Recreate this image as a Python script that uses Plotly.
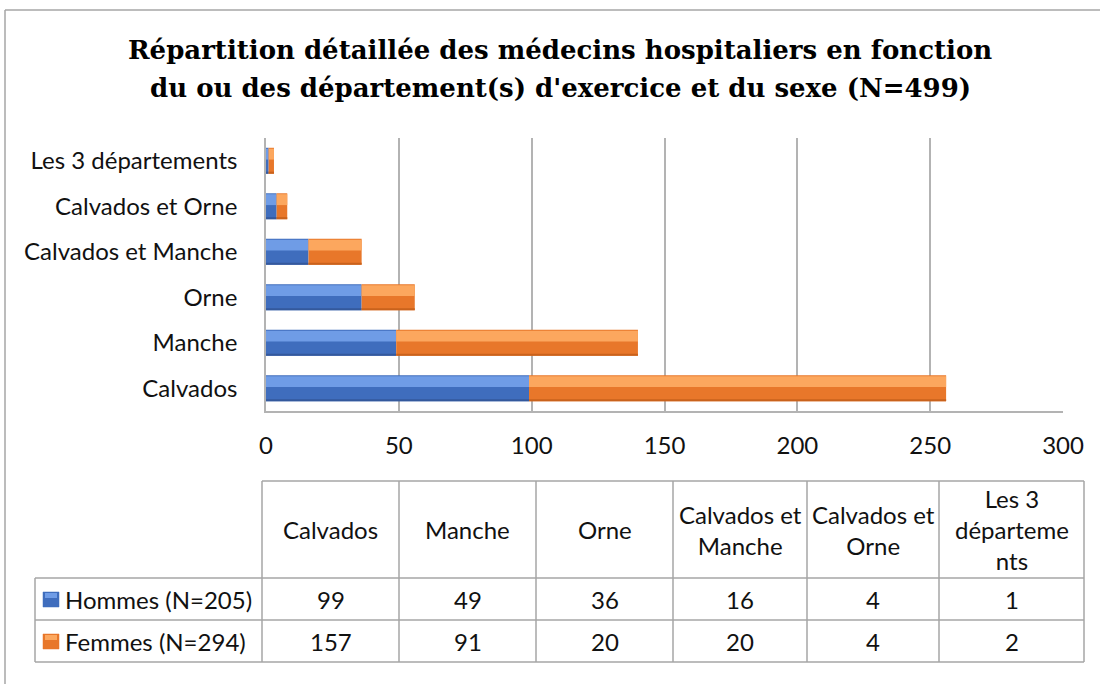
import plotly.graph_objects as go

# ---------------- data ----------------
categories = ["Calvados", "Manche", "Orne", "Calvados et Manche", "Calvados et Orne", "Les 3 départements"]
table_headers = ["Calvados", "Manche", "Orne", "Calvados et<br>Manche", "Calvados et<br>Orne", "Les 3<br>départeme<br>nts"]
hommes = [99, 49, 36, 16, 4, 1]
femmes = [157, 91, 20, 20, 4, 2]
series_names = ["Hommes (N=205)", "Femmes (N=294)"]
x_ticks = [0, 50, 100, 150, 200, 250, 300]
title_lines = ["Répartition détaillée des médecins hospitaliers en fonction",
               "du ou des département(s) d'exercice et du sexe (N=499)"]

# ---------------- layout geometry (pixels) ----------------
W, H = 1100, 684
PL, PR, PT, PB = 266, 1063, 138, 411  # plot area

def px(x):
    return (x - PL) / (PR - PL)

def py(y):
    return (PB - y) / (PB - PT)

BODY_FONT = "Lato"
FS = 24
TXT = "#111111"
GRID = "#B3B3B3"
LINE = "#A6A6A6"

blue_base, blue_light, blue_dark = "#3F6DBD", "#6F9CE6", "#34599C"
orange_base, orange_light, orange_dark = "#E8772A", "#FCA75E", "#C9621C"

fig = go.Figure()

bw = 0.57
def add_series(vals, base, c_base, c_light, c_dark):
    fig.add_trace(go.Bar(y=categories, x=vals, base=base, orientation="h",
                         width=bw, offset=-bw / 2, marker=dict(color=c_base, line=dict(width=0)),
                         showlegend=False, hoverinfo="skip"))
    fig.add_trace(go.Bar(y=categories, x=vals, base=base, orientation="h",
                         width=bw * 0.42, offset=bw / 2 - bw * 0.42 - 0.02,
                         marker=dict(color=c_light, line=dict(width=0)),
                         showlegend=False, hoverinfo="skip"))
    fig.add_trace(go.Bar(y=categories, x=vals, base=base, orientation="h",
                         width=0.045, offset=-bw / 2,
                         marker=dict(color=c_dark, line=dict(width=0)),
                         showlegend=False, hoverinfo="skip"))

add_series(hommes, [0] * len(hommes), blue_base, blue_light, blue_dark)
add_series(femmes, hommes, orange_base, orange_light, orange_dark)

fig.update_layout(
    width=W, height=H,
    margin=dict(l=PL, r=W - PR, t=PT, b=H - PB, autoexpand=False),
    paper_bgcolor="white", plot_bgcolor="white",
    barmode="overlay",
    font=dict(family=BODY_FONT, size=FS, color=TXT),
    xaxis=dict(range=[0, 300], tickvals=x_ticks, showgrid=True, gridcolor=GRID, gridwidth=1.6,
               zeroline=False, showline=True, linecolor=GRID, linewidth=1.6,
               ticks="", ticklabelstandoff=12, tickfont=dict(size=FS, family=BODY_FONT, color=TXT)),
    yaxis=dict(type="category", categoryorder="array", categoryarray=categories,
               range=[-0.5, len(categories) - 0.5], showgrid=False, zeroline=False,
               showline=True, linecolor=GRID, linewidth=1.6,
               ticks="", ticklabelstandoff=22, tickfont=dict(size=FS, family=BODY_FONT, color=TXT)),
)

shapes = []
annots = []

# outer chart border (left and top, extends off-screen)
shapes.append(dict(type="line", xref="paper", yref="paper", x0=px(5), x1=px(1200), y0=py(10), y1=py(10),
                   line=dict(color=LINE, width=1.5)))
shapes.append(dict(type="line", xref="paper", yref="paper", x0=px(5), x1=px(5), y0=py(10), y1=py(800),
                   line=dict(color=LINE, width=1.5)))

# title (two lines)
for t, ty in zip(title_lines, [50, 88]):
    annots.append(dict(text="<b>" + t + "</b>", xref="paper", yref="paper",
                       x=px(560), y=py(ty), xanchor="center", yanchor="middle", showarrow=False,
                       font=dict(family="DejaVu Serif", size=26, color="#000000")))

# ---------------- data table ----------------
col_edges = [262, 399, 536, 673, 807, 939, 1084]
row_edges = [481, 578, 620, 662]
tbl_left = 35

shapes.append(dict(type="line", xref="paper", yref="paper", x0=px(col_edges[0]), x1=px(col_edges[-1]),
                   y0=py(row_edges[0]), y1=py(row_edges[0]), line=dict(color=LINE, width=1.5)))
for r in row_edges[1:]:
    shapes.append(dict(type="line", xref="paper", yref="paper", x0=px(tbl_left), x1=px(col_edges[-1]),
                       y0=py(r), y1=py(r), line=dict(color=LINE, width=1.5)))
for c in col_edges:
    shapes.append(dict(type="line", xref="paper", yref="paper", x0=px(c), x1=px(c),
                       y0=py(row_edges[0]), y1=py(row_edges[-1]), line=dict(color=LINE, width=1.5)))
shapes.append(dict(type="line", xref="paper", yref="paper", x0=px(tbl_left), x1=px(tbl_left),
                   y0=py(row_edges[1]), y1=py(row_edges[-1]), line=dict(color=LINE, width=1.5)))

for i, h in enumerate(table_headers):
    cx = (col_edges[i] + col_edges[i + 1]) / 2
    cy = (row_edges[0] + row_edges[1]) / 2
    annots.append(dict(text=h, xref="paper", yref="paper", x=px(cx), y=py(cy),
                       xanchor="center", yanchor="middle", showarrow=False, align="center",
                       font=dict(family=BODY_FONT, size=FS, color=TXT)))

rows = [hommes, femmes]
key_colors = [(blue_base, blue_light), (orange_base, orange_light)]
for r, vals in enumerate(rows):
    cy = (row_edges[r + 1] + row_edges[r + 2]) / 2
    cb, cl = key_colors[r]
    shapes.append(dict(type="rect", xref="paper", yref="paper", x0=px(43), x1=px(59),
                       y0=py(cy + 8), y1=py(cy - 7), fillcolor=cb, line=dict(color=cb, width=0.5)))
    shapes.append(dict(type="rect", xref="paper", yref="paper", x0=px(45), x1=px(57),
                       y0=py(cy - 1), y1=py(cy - 6), fillcolor=cl, line=dict(width=0)))
    annots.append(dict(text=series_names[r], xref="paper", yref="paper", x=px(63), y=py(cy),
                       xanchor="left", yanchor="middle", showarrow=False,
                       font=dict(family=BODY_FONT, size=FS, color=TXT)))
    for i, v in enumerate(vals):
        cx = (col_edges[i] + col_edges[i + 1]) / 2
        annots.append(dict(text=str(v), xref="paper", yref="paper", x=px(cx), y=py(cy),
                           xanchor="center", yanchor="middle", showarrow=False,
                           font=dict(family=BODY_FONT, size=FS, color=TXT)))

fig.update_layout(shapes=shapes, annotations=annots)
fig.write_html("out.html", config={"displayModeBar": False},
               post_script="document.body.style.margin='0';document.body.style.overflow='hidden';")
